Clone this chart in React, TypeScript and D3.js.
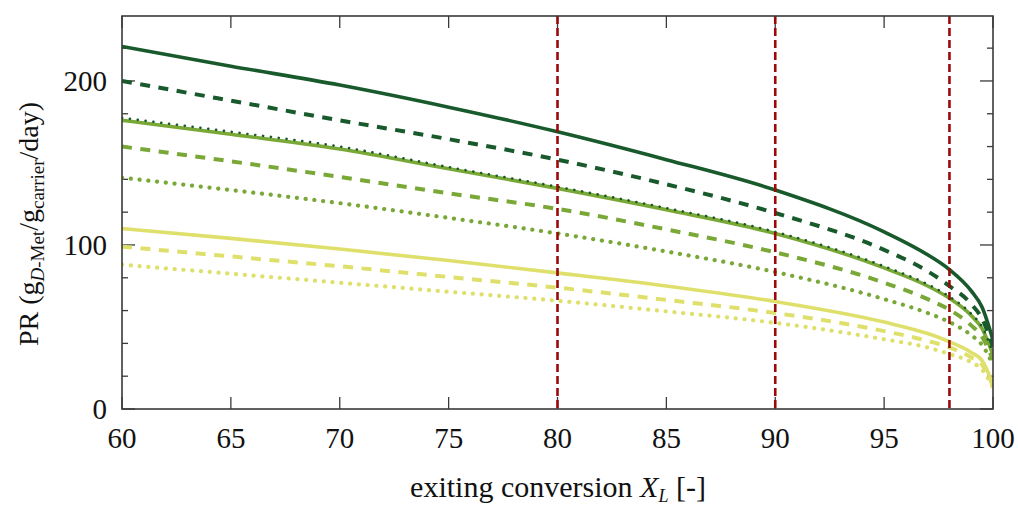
import React from "react";
import * as d3 from "d3";

const xs = [60, 65, 70, 75, 80, 85, 90, 95, 97, 98, 99, 99.5, 100];

const darkSolid = [221, 209, 197.5, 184, 169, 152, 133.5, 108, 94, 85, 72, 62, 42];
const darkDashed = [200, 188, 176, 164.5, 152, 137, 119.5, 97, 84, 75, 64, 55, 38];
const darkDotted = [177.5, 169, 160, 147.5, 135.5, 122.5, 108, 87, 76, 68.5, 58, 50, 34];
const midSolid = [176, 167.5, 158.5, 146.5, 134.5, 121.5, 107, 86, 75, 67.5, 57, 49, 33];
const midDashed = [160, 151, 141.5, 131.5, 122, 109.5, 95.5, 77, 67, 60.5, 51, 44, 30];
const midDotted = [141, 133.5, 125.5, 116.5, 107, 96, 83.5, 67, 58.5, 53, 45, 39, 27];
const yelSolid = [110, 104, 97.5, 90.5, 83, 75, 65.5, 53, 46, 41, 34.5, 29.5, 15];
const yelDashed = [99, 93, 87, 80.5, 74, 66.5, 58.5, 47.5, 41.5, 37.5, 31.5, 27, 14];
const yelDotted = [88, 82.5, 77, 71.5, 66, 59.5, 52.5, 42.5, 37.5, 33.5, 28.5, 24, 13];

const refLines = [80, 90, 98];
const xTicks = [60, 65, 70, 75, 80, 85, 90, 95, 100];
const yTicks = [0, 20, 40, 60, 80, 100, 120, 140, 160, 180, 200, 220];
const yLabels = [0, 100, 200];

const DARK = "#195a2c";
const MID = "#79a836";
const YEL = "#dfe06c";

type S = { v: number[]; c: string; kind: "solid" | "dashed" | "dotted" | "fine" };
const series: S[] = [
  { v: yelDotted, c: YEL, kind: "dotted" },
  { v: yelDashed, c: YEL, kind: "dashed" },
  { v: yelSolid, c: YEL, kind: "solid" },
  { v: midDotted, c: MID, kind: "dotted" },
  { v: midDashed, c: MID, kind: "dashed" },
  { v: midSolid, c: MID, kind: "solid" },
  { v: darkDotted, c: DARK, kind: "fine" },
  { v: darkDashed, c: DARK, kind: "dashed" },
  { v: darkSolid, c: DARK, kind: "solid" },
];

export default function App() {
  const W = 1018, H = 508;
  const L = 122, R = 993, T = 16, B = 409;
  const x = d3.scaleLinear().domain([60, 100]).range([L, R]);
  const y = d3.scaleLinear().domain([0, 239.6]).range([B, T]);
  const line = d3
    .line<number>()
    .x((_, i) => x(xs[i]))
    .y((d) => y(d))
    .curve(d3.curveMonotoneX);

  const styleOf = (k: S["kind"]) => {
    if (k === "solid") return { w: 3.6, dash: undefined, cap: "butt" };
    if (k === "dashed") return { w: 4, dash: "10 8.5", cap: "butt" };
    if (k === "dotted") return { w: 4.2, dash: "0.1 8.7", cap: "round" };
    return { w: 2.6, dash: "0.1 7.8", cap: "round" };
  };

  const font = "'Liberation Serif', 'DejaVu Serif', serif";
  const axisCol = "#3a3a3a";

  return (
    <svg width={W} height={H} style={{ position: "absolute", left: 0, top: 0 }}>
      <rect x={0} y={0} width={W} height={H} fill="#fff" />
      <defs>
        <clipPath id="pc">
          <rect x={L} y={T} width={R - L} height={B - T} />
        </clipPath>
      </defs>
      {xTicks.map((t) => (
        <g key={"xt" + t}>
          <line x1={x(t)} x2={x(t)} y1={B} y2={B - 12} stroke={axisCol} strokeWidth={1.3} />
          <line x1={x(t)} x2={x(t)} y1={T} y2={T + 12} stroke={axisCol} strokeWidth={1.3} />
          <text x={x(t)} y={448} textAnchor="middle" fontFamily={font} fontSize={29} fill="#111">
            {t}
          </text>
        </g>
      ))}
      {yTicks.map((t) => {
        const major = yLabels.includes(t);
        const len = major ? 13 : 6;
        return (
          <g key={"yt" + t}>
            <line x1={L} x2={L + len} y1={y(t)} y2={y(t)} stroke={axisCol} strokeWidth={1.3} />
            <line x1={R} x2={R - len} y1={y(t)} y2={y(t)} stroke={axisCol} strokeWidth={1.3} />
          </g>
        );
      })}
      {yLabels.map((t) => (
        <text key={"yl" + t} x={107} y={y(t) + 10} textAnchor="end" fontFamily={font} fontSize={29} fill="#111">
          {t}
        </text>
      ))}
      <g clipPath="url(#pc)">
        {series.map((s, i) => {
          const st = styleOf(s.kind);
          return (
            <path
              key={i}
              d={line(s.v) || ""}
              fill="none"
              stroke={s.c}
              strokeWidth={st.w}
              strokeDasharray={st.dash}
              strokeLinecap={st.cap as any}
              strokeLinejoin="round"
            />
          );
        })}
        {refLines.map((r) => (
          <line
            key={"r" + r}
            x1={x(r)}
            x2={x(r)}
            y1={T}
            y2={B}
            stroke="#990b0b"
            strokeWidth={2.6}
            strokeDasharray="8 4"
          />
        ))}
      </g>
      <rect x={L} y={T} width={R - L} height={B - T} fill="none" stroke={axisCol} strokeWidth={1.6} />
      <text x={558} y={497} textAnchor="middle" fontFamily={font} fontSize={30} fill="#111">
        exiting conversion <tspan fontStyle="italic">X</tspan>
        <tspan fontStyle="italic" fontSize={18} dy={5}>L</tspan>
        <tspan dy={-5}> [-]</tspan>
      </text>
      <text
        transform={`translate(38, 224) rotate(-90)`}
        textAnchor="middle"
        fontFamily={font}
        fontSize={28}
        fill="#111"
      >
        PR (g<tspan fontSize={19} dy={6}><tspan fontStyle="italic">D</tspan>-Met</tspan>
        <tspan dy={-6}>/g</tspan>
        <tspan fontSize={19} dy={6}>carrier</tspan>
        <tspan dy={-6}>/day)</tspan>
      </text>
    </svg>
  );
}
